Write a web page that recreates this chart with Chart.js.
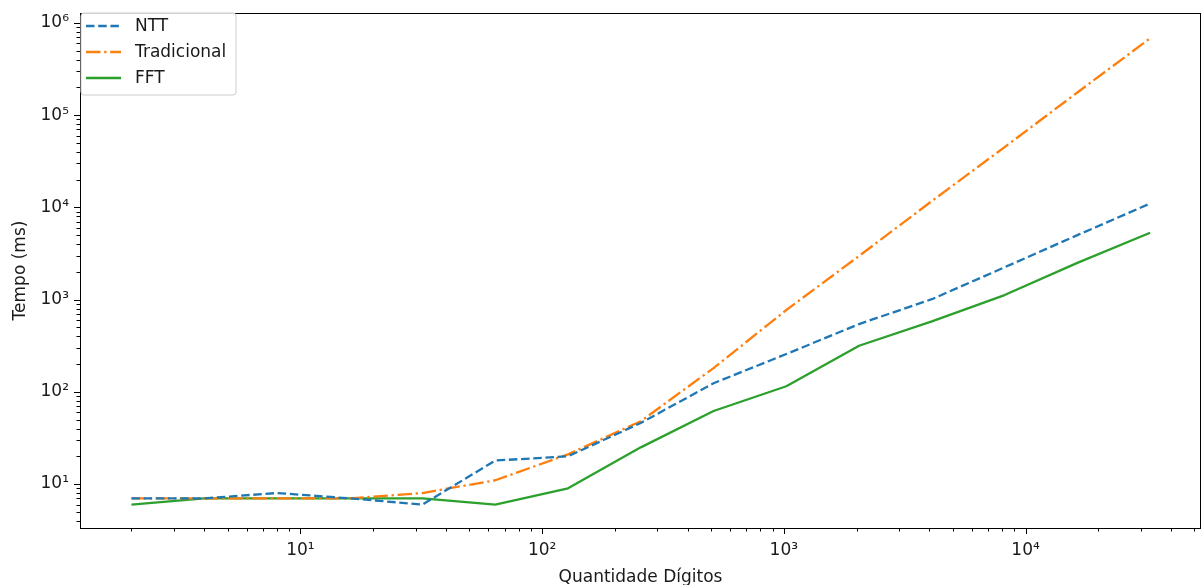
<!DOCTYPE html>
<html>
<head>
<meta charset="utf-8">
<script src="https://cdn.jsdelivr.net/npm/chart.js@4/dist/chart.umd.min.js"></script>
<style>
body { margin: 0; background: #fff; }
</style>
</head>
<body>
<canvas id="tempos" width="1203" height="585"></canvas>
<script>
// data
var digitos = [2, 4, 8, 16, 32, 64, 128, 256, 512, 1024, 2048, 4096, 8192, 16384, 32768];
var ntt = [7, 7, 8, 7, 6, 18, 20, 46, 124, 257, 543, 1010, 2240, 5000, 11000];
var tradicional = [7, 7, 7, 7, 8, 11, 21, 48, 181, 771, 2970, 11700, 45000, 176000, 682000];
var fft = [6, 7, 7, 7, 7, 6, 9, 25, 62, 115, 316, 580, 1120, 2500, 5300];

var xMajor = [10, 100, 1000, 10000];
var yMajor = [10, 100, 1000, 10000, 100000, 1000000];

var sup = {'0': '⁰', '1': '¹', '2': '²', '3': '³', '4': '⁴', '5': '⁵', '6': '⁶', '7': '⁷', '8': '⁸', '9': '⁹'};

function pontos(ys) {
    return digitos.map(function (d, i) { return {x: d, y: ys[i]}; });
}

// 1..9 x 10^k inside the axis range
function logTicks(min, max) {
    var out = [];
    for (var e = Math.floor(Math.log10(min)); e <= Math.ceil(Math.log10(max)); e++) {
        for (var m = 1; m <= 9; m++) {
            var v = m * Math.pow(10, e);
            if (v >= min && v <= max) out.push({value: v});
        }
    }
    return out;
}

function rotulo(majors) {
    return function (value) {
        if (majors.indexOf(value) < 0) return '';
        var e = String(Math.round(Math.log10(value)));
        return '10' + e.split('').map(function (c) { return sup[c]; }).join('');
    };
}

var fonte = {family: 'DejaVu Sans', size: 17};

// spines, outward ticks and the framed legend, matplotlib style
var estilo = {
    id: 'estilo',
    afterDatasetsDraw: function (chart) {
        var ctx = chart.ctx, a = chart.chartArea;
        ctx.save();
        ctx.strokeStyle = '#000';
        ctx.lineWidth = 1;
        ctx.strokeRect(a.left + 0.5, a.top + 0.5, a.right - a.left - 1, a.bottom - a.top);

        var sx = chart.scales.x, sy = chart.scales.y;
        ctx.beginPath();
        sx.ticks.forEach(function (t) {
            var px = Math.round(sx.getPixelForValue(t.value)) + 0.5;
            var len = xMajor.indexOf(t.value) >= 0 ? 6 : 3.5;
            ctx.moveTo(px, a.bottom);
            ctx.lineTo(px, a.bottom + len);
        });
        sy.ticks.forEach(function (t) {
            var py = Math.round(sy.getPixelForValue(t.value)) + 0.5;
            var len = yMajor.indexOf(t.value) >= 0 ? 6 : 3.5;
            ctx.moveTo(a.left, py);
            ctx.lineTo(a.left - len, py);
        });
        ctx.stroke();

        // legend box
        var bx = a.left + 1, by = a.top, bw = 155, bh = 82, r = 3;
        ctx.beginPath();
        ctx.moveTo(bx + r, by);
        ctx.arcTo(bx + bw, by, bx + bw, by + bh, r);
        ctx.arcTo(bx + bw, by + bh, bx, by + bh, r);
        ctx.arcTo(bx, by + bh, bx, by, r);
        ctx.arcTo(bx, by, bx + bw, by, r);
        ctx.closePath();
        ctx.fillStyle = 'rgba(255,255,255,0.85)';
        ctx.fill();
        ctx.strokeStyle = '#cccccc';
        ctx.stroke();

        ctx.font = '17px "DejaVu Sans"';
        ctx.textBaseline = 'middle';
        chart.data.datasets.forEach(function (ds, i) {
            var y = by + 13 + i * 26;
            ctx.beginPath();
            ctx.setLineDash(ds.borderDash || []);
            ctx.strokeStyle = ds.borderColor;
            ctx.lineWidth = ds.borderWidth;
            ctx.moveTo(bx + 5, y);
            ctx.lineTo(bx + 40, y);
            ctx.stroke();
            ctx.setLineDash([]);
            ctx.fillStyle = '#1a1a1a';
            ctx.fillText(ds.label, bx + 54, y + 1);
        });
        ctx.restore();
    }
};

var grafico = new Chart(document.getElementById('tempos'), {
type: 'line',
data: {
    datasets: [{
        label: 'NTT',
        data: pontos(ntt),
        borderColor: '#1f77b4',
        borderDash: [8.5, 3.7],
        borderWidth: 2.3,
    }, {
        label: 'Tradicional',
        data: pontos(tradicional),
        borderColor: '#ff7f0e',
        borderDash: [14.5, 3.7, 2.3, 3.7],
        borderWidth: 2.3,
    }, {
        label: 'FFT',
        data: pontos(fft),
        borderColor: '#2ca02c',
        borderWidth: 2.3,
    }]
},
plugins: [estilo],
options: {
    responsive: false,
    animation: false,
    layout: {padding: {top: 13, right: 2, left: 0, bottom: 0}},
    elements: {
        point: {radius: 0},
        line: {tension: 0, fill: false, borderJoinStyle: 'round'},
    },
    plugins: {
        legend: {display: false},
        tooltip: {enabled: false},
    },
    scales: {
        x: {
            type: 'logarithmic',
            min: 1.225,
            max: 53200,
            grid: {display: false, drawTicks: false},
            border: {display: false},
            afterBuildTicks: function (s) { s.ticks = logTicks(s.min, s.max); },
            afterFit: function (s) { s.height = 57; s.paddingLeft = 0; s.paddingRight = 0; },
            ticks: {
                autoSkip: false,
                maxRotation: 0,
                padding: 12,
                color: '#1a1a1a',
                font: fonte,
                callback: rotulo(xMajor),
            },
            title: {
                display: true,
                text: 'Quantidade Dígitos',
                color: '#1a1a1a',
                font: fonte,
                padding: {top: 0, bottom: -3},
            },
        },
        y: {
            type: 'logarithmic',
            min: 3.34,
            max: 1280000,
            grid: {display: false, drawTicks: false},
            border: {display: false},
            afterBuildTicks: function (s) { s.ticks = logTicks(s.min, s.max); },
            afterFit: function (s) { s.width = 80; s.paddingTop = 0; s.paddingBottom = 0; },
            ticks: {
                autoSkip: false,
                padding: 11,
                color: '#1a1a1a',
                font: fonte,
                callback: rotulo(yMajor),
            },
            title: {
                display: true,
                text: 'Tempo (ms)',
                color: '#1a1a1a',
                font: fonte,
                padding: {top: 10, bottom: 0},
            },
        },
    },
}
});
</script>
</body>
</html>
